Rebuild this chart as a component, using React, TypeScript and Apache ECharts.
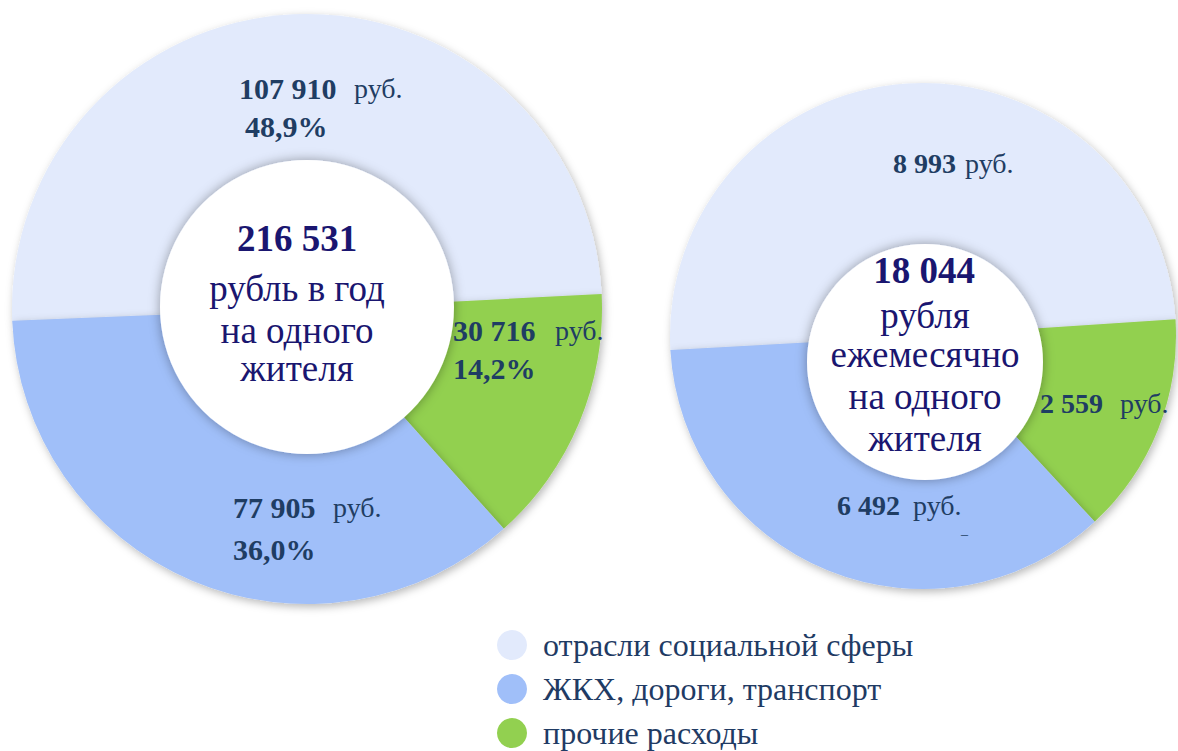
import React, { useEffect, useRef } from "react";
import * as echarts from "echarts";

const categories = ["отрасли социальной сферы", "ЖКХ, дороги, транспорт", "прочие расходы"];
const yearValues = [107910, 77905, 30716];
const monthValues = [8993, 6492, 2559];
const yearPercentLabels = ["48,9%", "36,0%", "14,2%"];
const sliceColors = ["#E2EAFC", "#A0BFF9", "#92D050"];
const sliceOrder = [0, 2, 1];
const yearCenterLines = ["рубль в год", "на одного", "жителя"];
const monthCenterLines = ["рубля", "ежемесячно", "на одного", "жителя"];
const currencyLabel = "руб.";

const FONT = "'Liberation Serif', 'Times New Roman', serif";
const LABEL_COLOR = "#1F3D63";
const CENTER_COLOR = "#1A1670";

const fmt = (n: number) => String(n).replace(/\B(?=(\d{3})+(?!\d))/g, " ");
const sum = (a: number[]) => a.reduce((s, v) => s + v, 0);

function ringSeries(values: number[], center: [number, number], radius: number, startAngle: number) {
  return {
    type: "pie",
    center,
    radius: [0, radius],
    startAngle,
    clockwise: true,
    label: { show: false },
    labelLine: { show: false },
    silent: true,
    z: 2,
    data: sliceOrder.map((i) => ({
      name: categories[i],
      value: values[i],
      itemStyle: {
        color: sliceColors[i],
        shadowBlur: 8,
        shadowColor: "rgba(0,0,0,0.28)",
        shadowOffsetX: 2,
        shadowOffsetY: 3,
      },
    })),
  };
}

function holeSeries(center: [number, number], radius: number) {
  return {
    type: "pie",
    center,
    radius: [0, radius],
    silent: true,
    z: 3,
    label: { show: false },
    labelLine: { show: false },
    data: [
      {
        name: "hole",
        value: 1,
        itemStyle: {
          color: "#ffffff",
          shadowBlur: 12,
          shadowColor: "rgba(0,0,0,0.35)",
        },
      },
    ],
  };
}

function txt(x: number, y: number, text: string, size: number, bold: boolean, fill: string, align = "left") {
  return {
    type: "text",
    x,
    y,
    z: 100,
    style: {
      text,
      fontFamily: FONT,
      fontSize: size,
      fontWeight: bold ? "bold" : "normal",
      fill,
      textAlign: align,
      textVerticalAlign: "middle",
    },
  };
}

export default function App() {
  const ref = useRef<HTMLDivElement>(null);

  useEffect(() => {
    if (!ref.current) return;
    const chart = echarts.init(ref.current, undefined, { renderer: "svg" });

    const graphics: any[] = [];
    graphics.push(txt(239, 88, fmt(yearValues[0]), 30, true, LABEL_COLOR));
    graphics.push(txt(354, 88, currencyLabel, 28, false, LABEL_COLOR));
    graphics.push(txt(245, 126, yearPercentLabels[0], 30, true, LABEL_COLOR));
    graphics.push(txt(453, 330, fmt(yearValues[2]), 30, true, LABEL_COLOR));
    graphics.push(txt(555, 330, currencyLabel, 28, false, LABEL_COLOR));
    graphics.push(txt(453, 368, yearPercentLabels[2], 30, true, LABEL_COLOR));
    graphics.push(txt(233, 507, fmt(yearValues[1]), 30, true, LABEL_COLOR));
    graphics.push(txt(333, 507, currencyLabel, 28, false, LABEL_COLOR));
    graphics.push(txt(233, 549, yearPercentLabels[1], 30, true, LABEL_COLOR));
    graphics.push(txt(893, 163, fmt(monthValues[0]), 28, true, LABEL_COLOR));
    graphics.push(txt(965, 163, currencyLabel, 28, false, LABEL_COLOR));
    graphics.push(txt(1040, 403, fmt(monthValues[2]), 28, true, LABEL_COLOR));
    graphics.push(txt(1120, 403, currencyLabel, 28, false, LABEL_COLOR));
    graphics.push(txt(837, 505, fmt(monthValues[1]), 28, true, LABEL_COLOR));
    graphics.push(txt(913, 505, currencyLabel, 28, false, LABEL_COLOR));
    graphics.push(txt(961, 534, "–", 14, false, LABEL_COLOR));
    graphics.push(txt(297, 238, fmt(sum(yearValues)), 37, true, CENTER_COLOR, "center"));
    const yL = [288, 330, 368];
    yearCenterLines.forEach((l, i) => graphics.push(txt(297, yL[i], l, 37, false, CENTER_COLOR, "center")));
    graphics.push(txt(924, 270, fmt(sum(monthValues)), 37, true, CENTER_COLOR, "center"));
    const yR = [315, 354, 396, 438];
    monthCenterLines.forEach((l, i) => graphics.push(txt(925, yR[i], l, 37, false, CENTER_COLOR, "center")));

    chart.setOption({
      animation: false,
      backgroundColor: "#ffffff",
      legend: {
        orient: "vertical",
        left: 497,
        top: 629,
        height: 140,
        padding: 0,
        icon: "circle",
        itemWidth: 30,
        itemHeight: 30,
        itemGap: 12,
        data: categories,
        selectedMode: false,
        textStyle: {
          fontFamily: FONT,
          fontSize: 32,
          color: "#1F3B64",
          padding: [0, 0, 0, 11],
        },
      },
      series: [
        ringSeries(yearValues, [307, 309], 295, 182.3),
        holeSeries([307, 307], 147),
        ringSeries(monthValues, [923, 336], 253, 183.2),
        holeSeries([925, 362], 118),
      ],
      graphic: graphics,
    });

    return () => chart.dispose();
  }, []);

  return (
    <div
      ref={ref}
      style={{ position: "absolute", left: 0, top: 0, width: 1178, height: 751 }}
    />
  );
}
